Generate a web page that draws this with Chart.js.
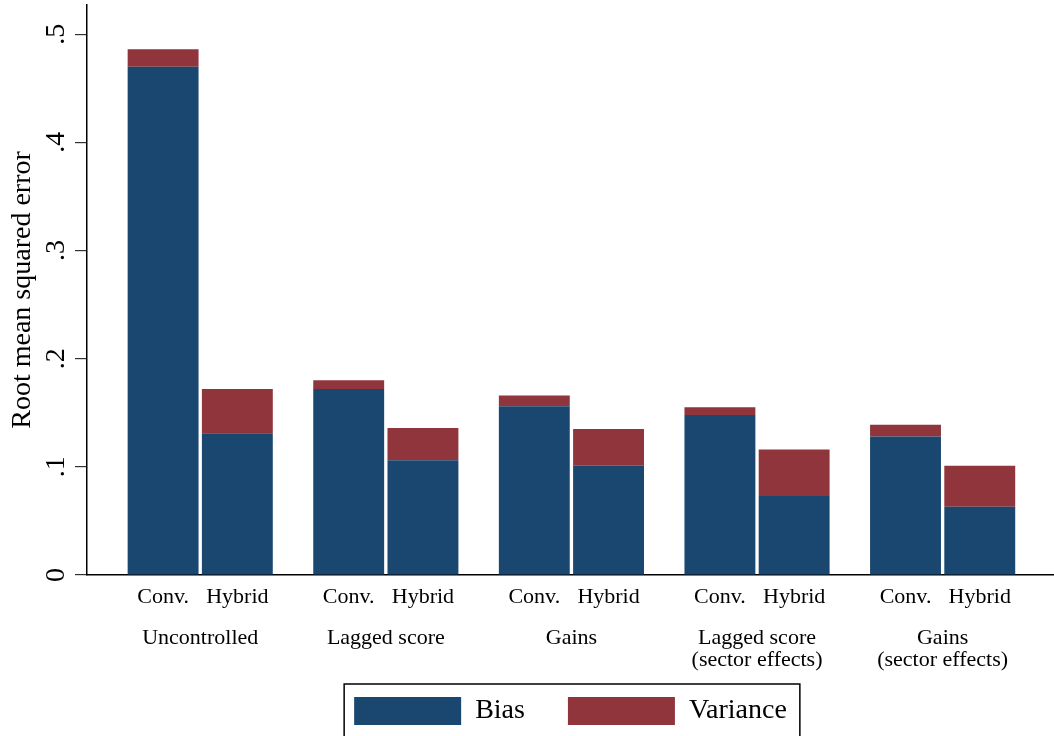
<!DOCTYPE html>
<html>
<head>
<meta charset="utf-8">
<script src="https://cdn.jsdelivr.net/npm/chart.js@4.4.0/dist/chart.umd.min.js"></script>
<style>
  html, body { margin: 0; padding: 0; background: #fff; }
  #wrap { width: 1054px; height: 736px; position: relative; }
</style>
</head>
<body>
<div id="wrap"><canvas id="c"></canvas></div>
<script>
// ---- data ----
const groupNames = ['Uncontrolled', 'Lagged score', 'Gains', ['Lagged score', '(sector effects)'], ['Gains', '(sector effects)']];
const methodNames = ['Conv.', 'Hybrid'];
const biasValues = [0.470, 0.131, 0.172, 0.106, 0.156, 0.101, 0.148, 0.073, 0.128, 0.063];
const varianceValues = [0.016, 0.041, 0.008, 0.030, 0.010, 0.034, 0.007, 0.043, 0.011, 0.038];
const yTickValues = [0, 0.1, 0.2, 0.3, 0.4, 0.5];
const yTickLabels = ['0', '.1', '.2', '.3', '.4', '.5'];
const seriesNames = ['Bias', 'Variance'];

// ---- layout helpers ----
const slotOf = (g, m) => 2 + 5 * g + 2 * m;
const barPositions = [];
const barLabels = [];
groupNames.forEach((_, g) => methodNames.forEach((name, m) => { barPositions.push(slotOf(g, m)); barLabels.push(name); }));
const groupCenters = groupNames.map((_, g) => (slotOf(g, 0) + slotOf(g, 1)) / 2);

Chart.defaults.font.family = "'Liberation Serif', 'Times New Roman', serif";
Chart.defaults.color = '#000';

const yTickPlugin = {
  id: 'yTickLabels',
  afterDraw(chart) {
    const s = chart.scales.y;
    const ctx = chart.ctx;
    ctx.save();
    ctx.font = "28px 'Liberation Serif', serif";
    ctx.fillStyle = '#000';
    ctx.textAlign = 'center';
    ctx.textBaseline = 'alphabetic';
    s.ticks.forEach((t, i) => {
      const y = s.getPixelForValue(t.value);
      ctx.save();
      ctx.translate(s.right - 12 - 11, y);
      ctx.rotate(-Math.PI / 2);
      ctx.fillText(yTickLabels[i], 0, 0);
      ctx.restore();
    });
    ctx.restore();
  }
};

const legendBoxPlugin = {
  id: 'legendBox',
  afterDraw(chart) {
    const hb = chart.legend && chart.legend.legendHitBoxes;
    if (!hb || !hb.length) return;
    const last = hb[hb.length - 1];
    const left = hb[0].left - 10;
    const right = last.left + last.width + 13;
    const top = hb[0].top - 13;
    const ctx = chart.ctx;
    ctx.save();
    ctx.strokeStyle = '#000';
    ctx.lineWidth = 1.5;
    ctx.strokeRect(left, top, right - left, 90);
    ctx.restore();
  }
};

new Chart(document.getElementById('c'), {
  type: 'bar',
  data: {
    datasets: [
      { label: seriesNames[0], data: biasValues.map((v, i) => ({ x: barPositions[i], y: v })), backgroundColor: '#1a476f', borderWidth: 0 },
      { label: seriesNames[1], data: varianceValues.map((v, i) => ({ x: barPositions[i], y: v })), backgroundColor: '#90353b', borderWidth: 0 }
    ]
  },
  options: {
    responsive: true,
    maintainAspectRatio: false,
    animation: false,
    barPercentage: 0.955,
    categoryPercentage: 1,
    layout: { padding: { top: 5, left: 0, right: 0, bottom: 1 } },
    plugins: {
      tooltip: { enabled: false },
      legend: {
        position: 'bottom',
        fullSize: false,
        labels: { boxWidth: 107, boxHeight: 28, padding: 43, color: '#000', font: { size: 28 } }
      }
    },
    scales: {
      x: {
        type: 'linear', position: 'bottom', min: -0.05, max: 26, offset: false, stacked: true, weight: 0,
        grid: { display: false, drawTicks: false },
        border: { display: true, color: '#000', width: 1.5 },
        afterBuildTicks: s => { s.ticks = barPositions.map(v => ({ value: v })); },
        ticks: { autoSkip: false, maxRotation: 0, minRotation: 0, padding: 9, color: '#000', font: { size: 22, lineHeight: 1.2 }, callback: (v, i) => barLabels[i] },
        afterFit: s => { s.height = 36; }
      },
      xg: {
        type: 'linear', position: 'bottom', min: -0.05, max: 26, offset: false, weight: 1,
        grid: { display: false, drawTicks: false },
        border: { display: false },
        afterBuildTicks: s => { s.ticks = groupCenters.map(v => ({ value: v })); },
        ticks: { autoSkip: false, maxRotation: 0, minRotation: 0, padding: 16, color: '#000', font: { size: 22, lineHeight: 1.0 }, callback: (v, i) => groupNames[i] },
        afterFit: s => {
          s.height = 43;
          // let the two-line labels extend below this axis box (no clipping)
          s._computeLabelArea = () => null;
        }
      },
      y: {
        type: 'linear', position: 'left', stacked: true, min: 0, max: 0.527,
        afterBuildTicks: s => { s.ticks = yTickValues.map(v => ({ value: v })); },
        ticks: { display: false },
        grid: { drawOnChartArea: false, drawTicks: true, tickLength: 12, color: '#333', lineWidth: 1.2 },
        border: { display: true, color: '#000', width: 1.5 },
        title: { display: true, text: 'Root mean squared error', color: '#000', font: { size: 28 }, padding: { top: 6, bottom: 0 } },
        afterFit: s => { s.width = 87; }
      }
    }
  },
  plugins: [yTickPlugin, legendBoxPlugin]
});
</script>
</body>
</html>
